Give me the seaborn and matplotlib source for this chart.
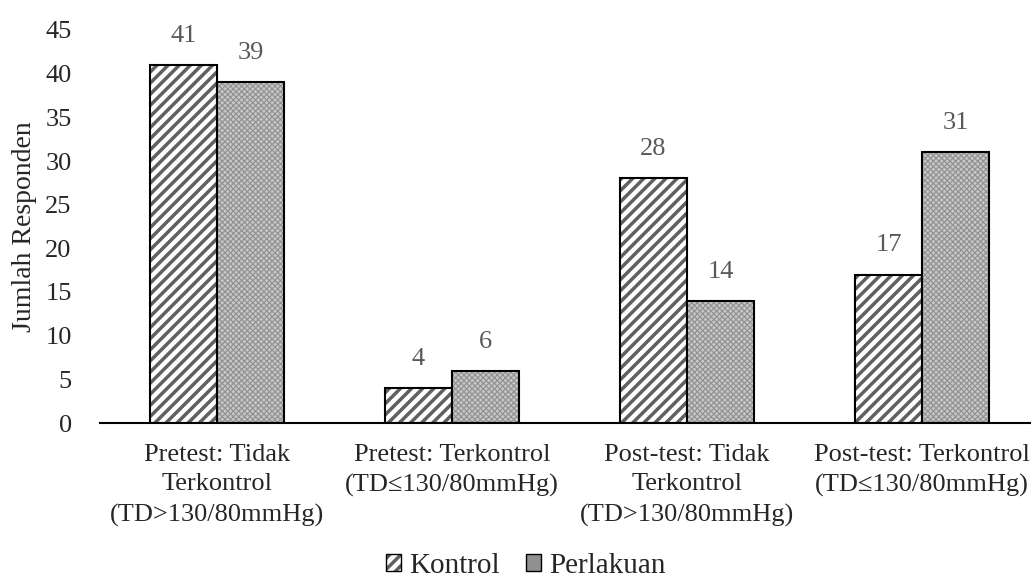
import matplotlib
matplotlib.use("Agg")
import matplotlib.pyplot as plt
import matplotlib.colors as mcolors
import seaborn as sns
import pandas as pd
from matplotlib.patches import Patch

categories = ["Pretest: Tidak\nTerkontrol\n(TD>130/80mmHg)",
              "Pretest: Terkontrol\n(TD≤130/80mmHg)",
              "Post-test: Tidak\nTerkontrol\n(TD>130/80mmHg)",
              "Post-test: Terkontrol\n(TD≤130/80mmHg)"]
series = ["Kontrol", "Perlakuan"]
kontrol = [41, 4, 28, 17]
perlakuan = [39, 6, 14, 31]
yticks = [0, 5, 10, 15, 20, 25, 30, 35, 40, 45]

df = pd.DataFrame({
    "Kategori": categories * 2,
    "Seri": [series[0]] * 4 + [series[1]] * 4,
    "Nilai": kontrol + perlakuan,
})

sns.set_theme(style="white")
plt.rcParams['font.family'] = ['Liberation Serif', 'DejaVu Serif']
plt.rcParams['hatch.linewidth'] = 2.5

FS = 19

fig = plt.figure(figsize=(10.31, 5.8), dpi=100)
ax = fig.add_axes([99.5/1031, (580-423)/580, 940/1031, (423-30)/580])

sns.barplot(data=df, x="Kategori", y="Nilai", hue="Seri", order=categories,
            hue_order=series, width=0.57, gap=0, ax=ax, legend=False,
            palette=["white", "white"], saturation=1)

styles = [dict(facecolor="white", hatch="///", hatchcolor="#606060", hlw=2.5),
          dict(facecolor="#c6c6c6", hatch="xxxxxx", hatchcolor="#909090", hlw=0.8)]


def style_patch(p, st):
    p.set_facecolor(st["facecolor"])
    p.set_hatch(st["hatch"])
    p.set_edgecolor("black")
    p.set_linewidth(1.5)
    p._hatch_color = mcolors.to_rgba(st["hatchcolor"])
    if hasattr(p, "_hatch_linewidth"):
        p._hatch_linewidth = st["hlw"]


for cont, st in zip(ax.containers, styles):
    for p in cont:
        style_patch(p, st)
    ax.bar_label(cont, padding=13, fontsize=FS, color="#595959")

ax.set_ylim(0, 45)
ax.set_xlim(-0.5, 3.5)
ax.set_yticks(yticks)
ax.set_yticklabels([str(t) for t in yticks], fontsize=FS)
ax.tick_params(axis="x", labelsize=FS, length=0, pad=15)
ax.tick_params(axis="y", length=0, pad=20)
for lab in ax.get_xticklabels():
    lab.set_linespacing(1.45)
ax.set_xlabel("")
ax.set_ylabel("Jumlah Responden", fontsize=20, labelpad=6)
for s in ["top", "right", "left"]:
    ax.spines[s].set_visible(False)
ax.spines["bottom"].set_color("black")
ax.spines["bottom"].set_linewidth(1.5)

handles = [Patch(), Patch()]
for h, st in zip(handles, styles):
    style_patch(h, st)
    h.set_linewidth(1.0)
fig.legend(handles, series, loc="center", bbox_to_anchor=(526/1031, 1 - 566/580),
           ncol=2, frameon=False, fontsize=21, handlelength=0.5, handleheight=0.5,
           handletextpad=0.3, columnspacing=0.9)

fig.savefig("out.png", dpi=100)
